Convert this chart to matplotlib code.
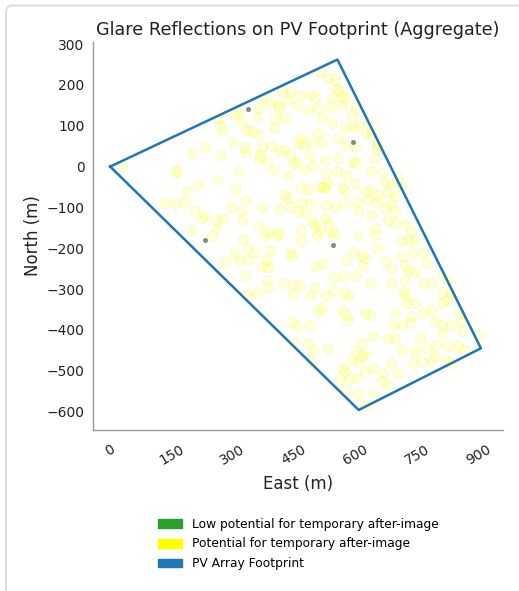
import matplotlib.pyplot as plt
from matplotlib.patches import Patch, FancyBboxPatch

# PV array footprint (east, north) in metres
footprint_east = [0, 556, 907, 608, 0]
footprint_north = [0, 262, -445, -596, 0]

# glare spots, potential for temporary after-image (yellow)
glare_east = [
    29, 200, 233, 272, 300, 330, 329, 371, 367, 363, 387, 393, 412, 426, 440, 448,
    159, 166, 216, 262, 312, 400, 436, 188, 135, 159, 184, 208, 224, 233, 261, 277,
    296, 307, 330, 321, 322, 371, 412, 428, 432, 440, 200, 261, 363, 387, 412,
    265, 269, 273, 302, 314, 322, 338, 347, 363, 359, 363, 371, 391, 404, 400, 410,
    412, 428, 435, 440, 420,
    513, 534, 550, 554, 558, 542, 566, 574, 464, 489, 501, 456, 485, 509, 538, 566,
    599, 591, 517, 542, 574, 595, 607, 631, 639, 627, 509, 468, 460, 472, 493, 517,
    558, 574, 599, 652, 652, 489, 525, 558, 595, 599, 648, 456, 476, 497, 529, 554,
    578, 639, 664, 672, 688, 705, 713, 534, 521, 525, 513, 485, 468, 566, 574, 599,
    623, 639, 656, 680, 697, 468, 489, 529, 550, 574, 603, 631, 652, 672, 688, 697,
    460, 476, 607, 639, 525, 493, 501, 534, 680, 697, 721, 648, 513, 542, 737, 468,
    249, 326, 379, 408, 306, 281, 314, 338, 355, 338, 383, 391, 375, 387, 440, 444,
    330, 383, 424, 448, 387, 359, 334, 448, 444, 448,
    468, 505, 546, 607, 648, 713, 729, 745, 595, 578, 615, 623, 652, 619, 676, 688,
    713, 721, 741, 766, 745, 729, 774, 501, 521, 546, 570, 599, 635, 688, 721, 766,
    786, 811, 827, 464, 501, 489, 529, 546, 574, 582, 717, 721, 745, 725, 766, 786,
    811, 827, 811, 831, 509, 517, 566, 578, 582, 623, 635, 697, 737, 733, 794, 811,
    835, 855, 860, 489, 456, 692, 713, 811, 860, 900, 485, 497, 534, 599, 615, 623,
    644, 680, 697, 713, 745, 758, 774, 798, 827, 851, 864, 762, 786, 794, 823, 835,
    741, 591, 607, 615, 566, 574, 562, 586, 603, 623, 644, 688, 668, 664, 680, 705,
    574, 607, 644, 623, 493,
]
glare_north = [
    2, 34, 49, 28, 59, 49, 35, 49, 28, 19, 12, 51, 38, 41, 28, 8,
    -14, -12, -43, -33, -12, -8, -24, -61, -90, -90, -86, -110, -126, -122, -130, -125,
    -98, -57, -82, -108, -130, -98, -104, -69, -77, -98, -155, -151, -143, -159, -163,
    118, 102, 86, 126, 130, 106, 90, 86, 77, 122, 143, 167, 159, 118, 94, 151,
    143, 118, 163, 183, 183,
    232, 216, 212, 191, 187, 167, 171, 167, 175, 175, 171, 151, 139, 143, 143, 151,
    147, 126, 118, 106, 98, 98, 102, 106, 77, 81, 81, 69, 57, 53, 61, 57,
    69, 53, 49, 53, 45, 29, 16, 20, 12, 8, 20, 8, -8, 4, -16, -12,
    -20, -12, -16, -41, -41, -29, -49, -41, -49, -53, -49, -57, -53, -49, -57, -41,
    -61, -57, -69, -65, -73, -86, -90, -94, -98, -90, -86, -82, -86, -102, -94, -110,
    -110, -114, -110, -118, -126, -135, -143, -139, -130, -139, -143, -151, -155, -159, -159, -155,
    -171, -177, -167, -167, -212, -232, -231, -200, -212, -228, -228, -204, -244, -246, -208, -220,
    -266, -277, -284, -289, -297, -307, -312, -312, -381, -432,
    -183, -167, -167, -167, -167, -183, -179, -183, -208, -228, -220, -224, -200, -244, -232, -249,
    -220, -240, -212, -212, -257, -253, -236, -244, -239, -273, -269, -269, -285, -285, -277, -285,
    -285, -265, -277, -289, -296, -318, -318, -301, -310, -318, -306, -314, -334, -334, -359, -350,
    -334, -326, -310, -310, -354, -346, -350, -363, -375, -359, -363, -359, -367, -383, -379, -387,
    -387, -359, -379, -387, -391, -391, -387, -407, -403, -412, -432, -452, -444, -448, -432, -460,
    -416, -420, -420, -448, -452, -420, -444, -436, -440, -440, -448, -477, -477, -464, -477, -481,
    -481, -473, -477, -464, -493, -501, -521, -517, -517, -501, -493, -481, -505, -526, -534, -505,
    -546, -558, -558, -583, -481,
]

# low potential spots (green, drawn faint)
low_east = [338, 595, 231, 544]
low_north = [141, 59, -179, -193]

legend_labels = ["Low potential for temporary after-image",
                 "Potential for temporary after-image",
                 "PV Array Footprint"]

fig = plt.figure(figsize=(5.19, 5.91), dpi=100)
fig.patches.append(FancyBboxPatch((6 / 519, -0.05), 1.2, 1.05 - 5.5 / 591,
                                  boxstyle="round,pad=0,rounding_size=0.012",
                                  transform=fig.transFigure, facecolor="white",
                                  edgecolor="#dcdcdc", linewidth=1.5, zorder=-10))
ax = fig.add_axes([93 / 519, 1 - 430 / 591, 410 / 519, 388 / 591])
ax.patch.set_alpha(0)

ax.scatter(glare_east, glare_north, s=55, color="yellow", alpha=0.14,
           edgecolors="#f0f000", linewidths=0.9, zorder=2)
ax.scatter(low_east, low_north, s=7, color="#6f7f6f", alpha=0.8, zorder=3)
ax.plot(footprint_east, footprint_north, color="#1f77b4", linewidth=1.8, zorder=4)

ax.set_xlim(-42, 961)
ax.set_ylim(-645, 305)
ax.set_xticks(range(0, 901, 150))
ax.set_yticks(range(-600, 301, 100))
ax.tick_params(length=0, labelsize=10, labelcolor="#222222", pad=6)
ax.tick_params(axis="x", pad=9)
plt.setp(ax.get_xticklabels(), rotation=30)
for side in ["top", "right"]:
    ax.spines[side].set_visible(False)
for side in ["left", "bottom"]:
    ax.spines[side].set_color("#999999")
    ax.spines[side].set_linewidth(1.0)

ax.set_title("Glare Reflections on PV Footprint (Aggregate)", fontsize=12.7, color="#222222", pad=5)
ax.set_xlabel("East (m)", fontsize=12, color="#222222", labelpad=5)
ax.set_ylabel("North (m)", fontsize=12, color="#222222", labelpad=3)

handles = [Patch(color="#2ca02c"), Patch(color="yellow"), Patch(color="#1f77b4")]
fig.legend(handles, legend_labels, loc="center", bbox_to_anchor=(298 / 519, 1 - 544 / 591),
           frameon=False, fontsize=8.8, labelspacing=0.55, handlelength=2.0)

fig.savefig("out.png", dpi=100)
